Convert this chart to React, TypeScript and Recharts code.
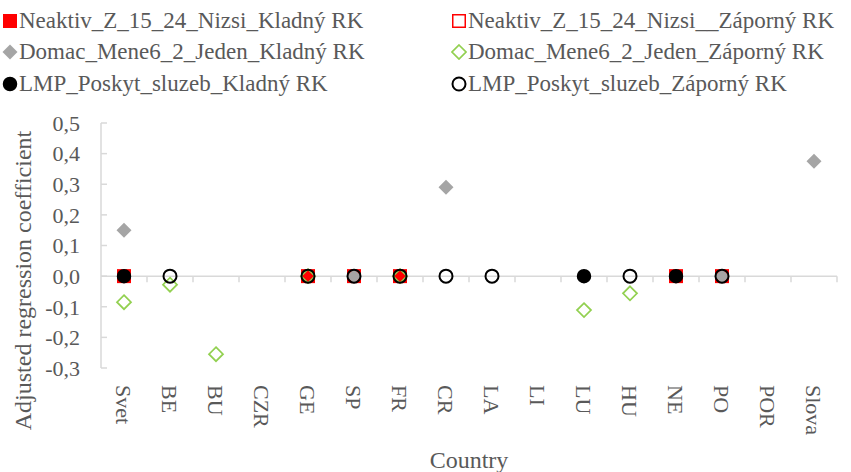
import React from "react";
import { ScatterChart, Scatter, XAxis, YAxis, ReferenceLine, Legend } from "recharts";

const countries = ["Svet", "BE", "BU", "CZR", "GE", "SP", "FR", "CR", "LA", "LI", "LU", "HU", "NE", "PO", "POR", "Slova"];

// one value per country, null = no point
const neaktivKladny = [0, null, null, null, 0, 0, 0, null, null, null, null, null, 0, 0, null, null];
const neaktivZaporny = [null, null, null, null, null, null, null, null, null, null, null, null, null, null, null, null];
const domacKladny = [0.15, null, null, null, null, 0, null, 0.29, null, null, null, null, null, 0, null, 0.375];
const domacZaporny = [-0.085, -0.028, -0.255, null, 0, null, 0, null, null, null, -0.111, -0.056, null, null, null, null];
const lmpKladny = [0, null, null, null, null, null, null, null, null, null, 0, null, 0, null, null, null];
const lmpZaporny = [null, 0, null, null, 0, 0, 0, 0, 0, null, null, 0, null, 0, null, null];

const yTicks = [-0.3, -0.2, -0.1, 0, 0.1, 0.2, 0.3, 0.4, 0.5];
const xTicks = countries.map((_, i) => i);

const FONT = "'Liberation Serif', 'Times New Roman', serif";
const TEXT = "#595959";
const AXIS = "#d9d9d9";

const series = [
  { name: "Neaktiv_Z_15_24_Nizsi_Kladný RK", values: neaktivKladny, kind: "redSquare" },
  { name: "Neaktiv_Z_15_24_Nizsi__Záporný RK", values: neaktivZaporny, kind: "redSquareOpen" },
  { name: "Domac_Mene6_2_Jeden_Kladný RK", values: domacKladny, kind: "grayDiamond" },
  { name: "Domac_Mene6_2_Jeden_Záporný RK", values: domacZaporny, kind: "greenDiamondOpen" },
  { name: "LMP_Poskyt_sluzeb_Kladný RK", values: lmpKladny, kind: "blackCircle" },
  { name: "LMP_Poskyt_sluzeb_Záporný RK", values: lmpZaporny, kind: "blackCircleOpen" },
];

const toPoints = (values: (number | null)[]) =>
  countries
    .map((c, i) => ({ x: i, y: values[i], country: c }))
    .filter((p) => p.y !== null);

const diamond = (cx: number, cy: number, r: number) =>
  `M${cx},${cy - r}L${cx + r},${cy}L${cx},${cy + r}L${cx - r},${cy}Z`;

const Marker = ({ kind, cx, cy }: { kind: string; cx: number; cy: number }) => {
  switch (kind) {
    case "redSquare":
      return <rect x={cx - 7} y={cy - 7} width={14} height={14} fill="#ff0000" />;
    case "redSquareOpen":
      return <rect x={cx - 6.25} y={cy - 6.25} width={12.5} height={12.5} fill="none" stroke="#ff0000" strokeWidth={1.5} />;
    case "grayDiamond":
      return <path d={diamond(cx, cy, 7.5)} fill="#a5a5a5" />;
    case "greenDiamondOpen":
      return <path d={diamond(cx, cy, 7)} fill="none" stroke="#92d050" strokeWidth={1.75} />;
    case "blackCircle":
      return <circle cx={cx} cy={cy} r={6.5} fill="#000" stroke="#000" strokeWidth={1.5} />;
    default:
      return <circle cx={cx} cy={cy} r={6.5} fill="none" stroke="#000" strokeWidth={2} />;
  }
};

const LegendContent = (props: any) => {
  const payload = props.payload || [];
  return (
    <div style={{ position: "relative", width: 851, height: 100, fontFamily: FONT, fontSize: 23, color: TEXT }}>
      {payload.map((entry: any) => {
        const idx = series.findIndex((d) => d.name === entry.value);
        const s = series[idx];
        if (!s) return null;
        return (
          <div
            key={entry.value}
            style={{
              position: "absolute",
              left: idx % 2 ? 451 : 2,
              top: 5 + Math.floor(idx / 2) * 31.5,
              height: 31.5,
              display: "flex",
              alignItems: "center",
              whiteSpace: "nowrap",
            }}
          >
            <svg width={16} height={16} style={{ marginRight: 1 }}>
              <Marker kind={s.kind} cx={8} cy={8} />
            </svg>
            <span style={{ fontFamily: FONT }}>{entry.value}</span>
          </div>
        );
      })}
    </div>
  );
};

const ZeroLine = (props: any) => {
  const { x1, x2, y1 } = props;
  const step = (x2 - x1) / countries.length;
  return (
    <g>
      <line x1={x1} y1={y1} x2={x2} y2={y1} stroke={AXIS} strokeWidth={1.5} />
      {countries.map((c, i) => (
        <line key={c} x1={x1 + step * (i + 1)} y1={y1} x2={x1 + step * (i + 1)} y2={y1 + 6} stroke={AXIS} strokeWidth={1.5} />
      ))}
    </g>
  );
};

const CountryTick = (props: any) => {
  const { x, y, payload } = props;
  return (
    <text
      x={x}
      y={y}
      dy="0.35em"
      transform={`rotate(90, ${x}, ${y})`}
      textAnchor="start"
      fontFamily={FONT}
      fontSize={22}
      fill={TEXT}
    >
      {countries[payload.value]}
    </text>
  );
};

const YTitle = (props: any) => {
  const { x, y, height } = props.viewBox;
  const cx = x + 23;
  const cy = y + height / 2 + 35;
  return (
    <text x={cx} y={cy} transform={`rotate(-90, ${cx}, ${cy})`} textAnchor="middle" dominantBaseline="central" fontFamily={FONT} fontSize={24} fill={TEXT}>
      Adjusted regression coefficient
    </text>
  );
};

const XTitle = (props: any) => {
  const { x, y, width, height } = props.viewBox;
  return (
    <text x={x + width / 2} y={y + height - 4} textAnchor="middle" fontFamily={FONT} fontSize={24} fill={TEXT}>
      Country
    </text>
  );
};

export default function App() {
  return (
    <div style={{ position: "absolute", left: 0, top: 0, background: "#fff" }}>
      <ScatterChart width={851} height={472} margin={{ top: 23, right: 14, bottom: 0, left: 0 }}>
        <Legend verticalAlign="top" align="left" content={LegendContent} wrapperStyle={{ top: 0, left: 0, width: 851, height: 100 }} />
        <XAxis
          type="number"
          dataKey="x"
          domain={[-0.5, 15.5]}
          ticks={xTicks}
          interval={0}
          height={104}
          axisLine={false}
          tickLine={false}
          tickMargin={11}
          tick={<CountryTick />}
          label={{ content: XTitle }}
        />
        <YAxis
          type="number"
          dataKey="y"
          domain={[-0.3, 0.5]}
          ticks={yTicks}
          interval={0}
          width={101}
          axisLine={{ stroke: AXIS, strokeWidth: 1.5 }}
          tickLine={{ stroke: AXIS, strokeWidth: 1.5 }}
          tickSize={-6}
          tickMargin={27}
          tickFormatter={(v: number) => v.toFixed(1).replace(".", ",")}
          tick={{ fontFamily: FONT, fontSize: 22, fill: TEXT }}
          label={{ content: YTitle }}
        />
        <ReferenceLine y={0} shape={ZeroLine} />
        {series.map((s) => (
          <Scatter
            key={s.name}
            name={s.name}
            data={toPoints(s.values)}
            isAnimationActive={false}
            shape={(p: any) => <Marker kind={s.kind} cx={p.cx} cy={p.cy} />}
          />
        ))}
      </ScatterChart>
    </div>
  );
}
